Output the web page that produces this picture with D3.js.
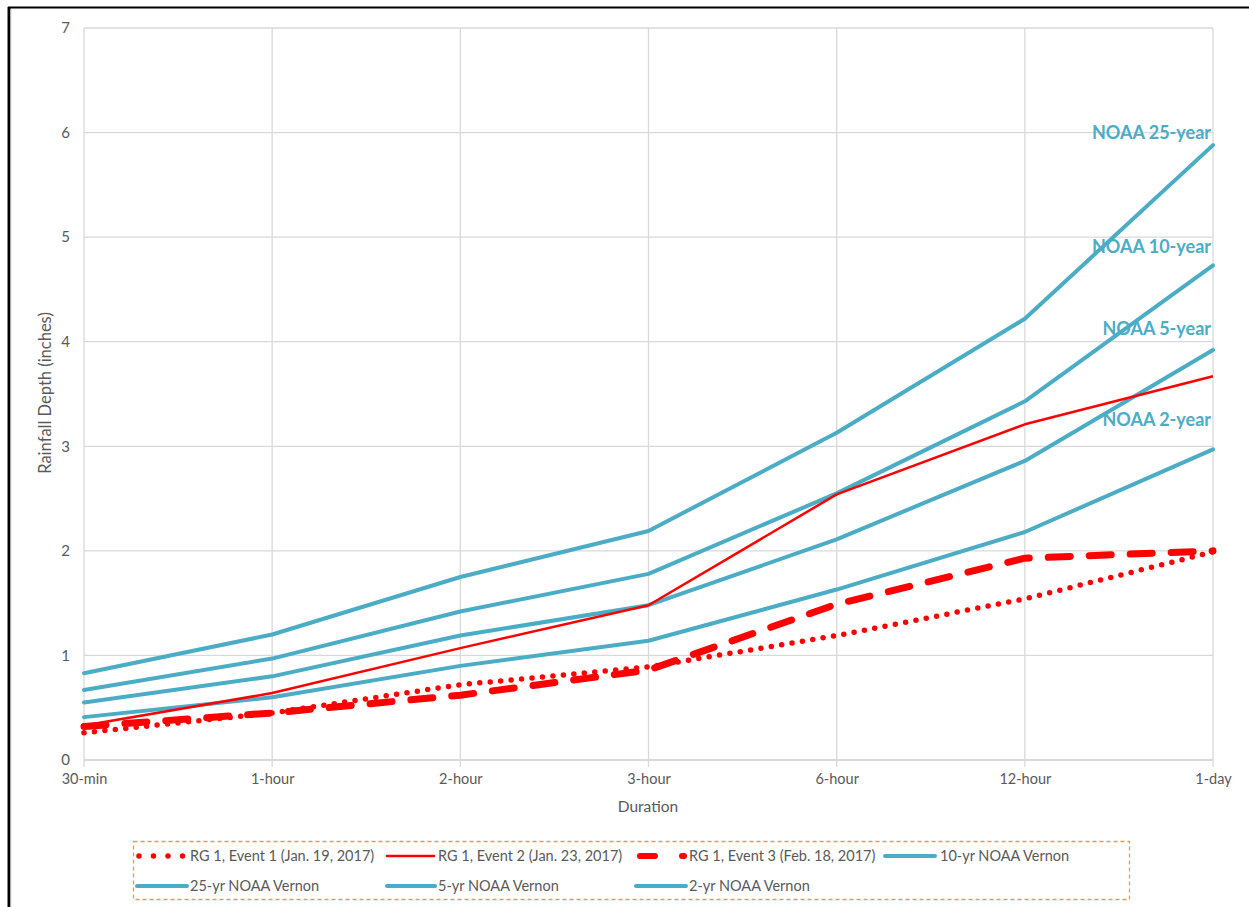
<!DOCTYPE html>
<html><head><meta charset="utf-8">
<script src="https://cdn.jsdelivr.net/npm/d3@7"></script>
<style>
body{margin:0;background:#fff;}
svg{display:block;font-family:Lato,"Open Sans",sans-serif;}
</style></head>
<body><svg id="c" width="1249" height="907"></svg>
<script>
const categories = ["30-min","1-hour","2-hour","3-hour","6-hour","12-hour","1-day"];
const yTicks = [0,1,2,3,4,5,6,7];
const event1 = [0.26,0.45,0.72,0.89,1.19,1.54,1.99];
const event2 = [0.33,0.64,1.07,1.48,2.54,3.21,3.67];
const event3 = [0.32,0.45,0.62,0.86,1.49,1.93,2.00];
const noaa10 = [0.67,0.97,1.42,1.78,2.55,3.43,4.73];
const noaa25 = [0.83,1.20,1.75,2.19,3.13,4.22,5.88];
const noaa5  = [0.55,0.80,1.19,1.48,2.11,2.86,3.92];
const noaa2  = [0.41,0.60,0.90,1.14,1.63,2.18,2.97];
const seriesNames = ["RG 1, Event 1 (Jan. 19, 2017)","RG 1, Event 2 (Jan. 23, 2017)","RG 1, Event 3 (Feb. 18, 2017)","10-yr NOAA Vernon","25-yr NOAA Vernon","5-yr NOAA Vernon","2-yr NOAA Vernon"];
const endLabels = ["NOAA 25-year","NOAA 10-year","NOAA 5-year","NOAA 2-year"];

const RED="#ff0000", TEAL="#4bacc6", GRID="#d9d9d9", TXT="#595959";
const svg=d3.select("#c");
const L=84,R=1213,T=28,B=760;
const x=d3.scalePoint().domain(categories).range([L,R]);
const y=d3.scaleLinear().domain([0,7]).range([B,T]);

// frame
svg.append("line").attr("x1",9).attr("x2",9).attr("y1",7).attr("y2",907).attr("stroke","#000").attr("stroke-width",3);
svg.append("line").attr("x1",8).attr("x2",1249).attr("y1",7.5).attr("y2",7.5).attr("stroke","#000").attr("stroke-width",2);
svg.append("line").attr("x1",11).attr("x2",11).attr("y1",9).attr("y2",907).attr("stroke","#ddd").attr("stroke-width",1);

// grid
const g=svg.append("g");
g.selectAll(".hg").data(yTicks).join("line").attr("x1",L).attr("x2",R)
 .attr("y1",d=>y(d)).attr("y2",d=>y(d)).attr("stroke",GRID).attr("stroke-width",d=>d===0?2:1.3);
g.selectAll(".vg").data(categories).join("line").attr("x1",d=>x(d)).attr("x2",d=>x(d))
 .attr("y1",T).attr("y2",B+7).attr("stroke",GRID).attr("stroke-width",1.3);

// axes labels via d3 axes
const ya=svg.append("g").attr("transform",`translate(${L},0)`).call(d3.axisLeft(y).tickValues(yTicks).tickFormat(d3.format("d")).tickSize(0).tickPadding(14));
ya.select(".domain").remove();
ya.selectAll("text").attr("fill",TXT).style("font-size","15px").style("font-family","Lato,'Open Sans',sans-serif");
const xa=svg.append("g").attr("transform",`translate(0,${B})`).call(d3.axisBottom(x).tickSize(0).tickPadding(14));
xa.select(".domain").remove();
xa.selectAll("text").attr("fill",TXT).style("font-size","14.5px").style("font-family","Lato,'Open Sans',sans-serif");

svg.append("text").attr("transform","translate(51,393) rotate(-90)").attr("text-anchor","middle")
 .attr("fill",TXT).style("font-size","16.5px").text("Rainfall Depth (inches)");
svg.append("text").attr("x",648).attr("y",812).attr("text-anchor","middle")
 .attr("fill",TXT).style("font-size","15.5px").text("Duration");

const line=d3.line().x((d,i)=>x(categories[i])).y(d=>y(d));
const styles=[
 {data:event1,color:RED,w:5.5,dash:"0,10.5",cap:"round"},
 {data:event2,color:RED,w:2.5,dash:null,cap:"butt"},
 {data:event3,color:RED,w:7,dash:"22,19",cap:"round"},
 {data:noaa10,color:TEAL,w:4,dash:null,cap:"round"},
 {data:noaa25,color:TEAL,w:4,dash:null,cap:"round"},
 {data:noaa5,color:TEAL,w:4,dash:null,cap:"round"},
 {data:noaa2,color:TEAL,w:4,dash:null,cap:"round"}
];
const drawOrder=[3,4,5,6,1,2,0];
drawOrder.forEach(k=>{
 const s=styles[k];
 svg.append("path").datum(s.data).attr("d",line).attr("fill","none").attr("stroke",s.color)
  .attr("stroke-width",s.w).attr("stroke-linecap",s.cap).attr("stroke-linejoin","round")
  .attr("stroke-dasharray",s.dash);
});

// end labels
const endY=[133,247,329,420];
endLabels.forEach((t,i)=>{
 svg.append("text").attr("x",1211).attr("y",endY[i]).attr("dy","0.35em").attr("text-anchor","end")
  .attr("fill",TEAL).style("font-size","18px").style("font-weight","bold").text(t);
});

// legend
svg.append("rect").attr("x",133.5).attr("y",841.5).attr("width",996).attr("height",58)
 .attr("fill","none").attr("stroke","#f79646").attr("stroke-width",1.3).attr("stroke-dasharray","4,3");
const legPos=[[137,856,184,190],[387,856,434,438],[636,856,684,689],[885,856,935,940],[137,886,187,190],[387,886,435,438],[636,886,686,689]];
seriesNames.forEach((n,i)=>{
 const s=styles[i]; const p=legPos[i];
 const lg=svg.append("g");
 if(i===0){
  lg.append("line").attr("x1",p[0]+2).attr("x2",p[2]).attr("y1",p[1]).attr("y2",p[1]).attr("stroke",RED)
   .attr("stroke-width",5.5).attr("stroke-linecap","round").attr("stroke-dasharray","0,14.5");
 } else if(i===2){
  lg.append("line").attr("x1",p[0]+4).attr("x2",p[2]).attr("y1",p[1]).attr("y2",p[1]).attr("stroke",RED)
   .attr("stroke-width",6).attr("stroke-linecap","round").attr("stroke-dasharray","15,27");
 } else {
  lg.append("line").attr("x1",p[0]).attr("x2",p[2]).attr("y1",p[1]).attr("y2",p[1]).attr("stroke",s.color)
   .attr("stroke-width",s.w).attr("stroke-linecap","round");
 }
 lg.append("text").attr("x",p[3]).attr("y",p[1]).attr("dy","0.35em").attr("fill",TXT)
  .style("font-size","14.5px").text(n);
});
</script></body></html>
